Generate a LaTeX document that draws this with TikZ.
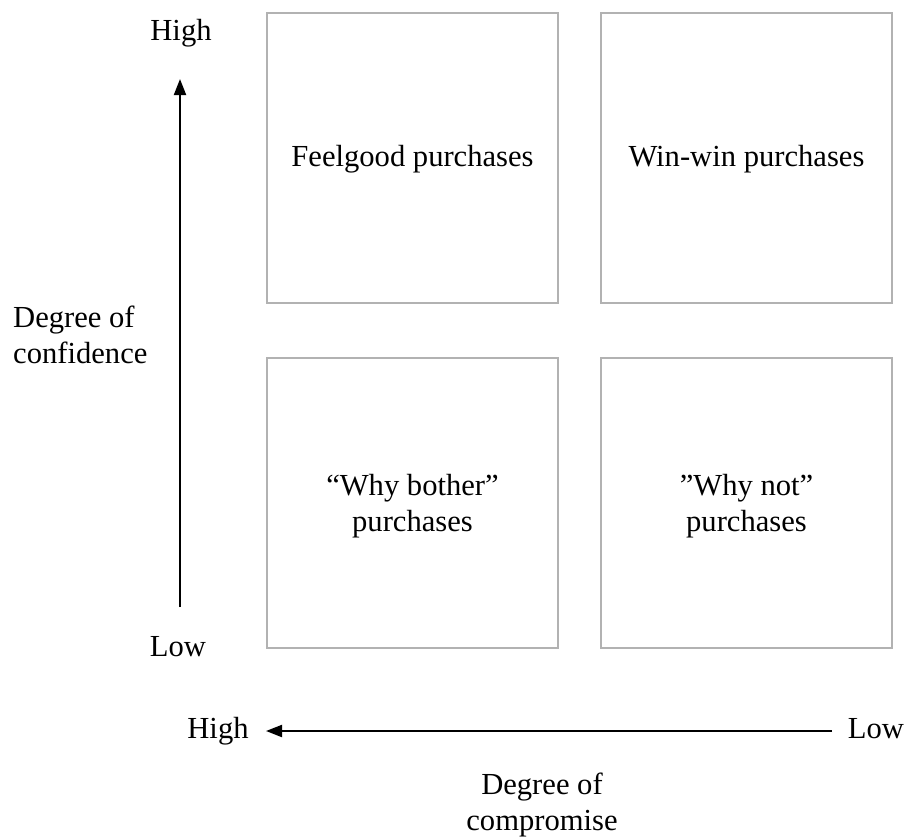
\documentclass[tikz,border=0pt]{standalone}
\usepackage{fontspec}
\setmainfont{Liberation Serif}
\usetikzlibrary{arrows.meta}
\begin{document}
\begin{tikzpicture}[x=1pt,y=-1pt,
  quad/.style={draw=black!30, line width=2pt, minimum width=291pt, minimum height=290pt, inner sep=0pt, anchor=north west},
  lbl/.style={font=\fontsize{30.6}{36}\selectfont, inner sep=0pt, align=center},
  axis/.style={line width=2pt, -{Triangle[length=16pt,width=12pt]}}]
  \useasboundingbox (0,0) rectangle (906,839);
  % quadrants
  \node[quad] (fg) at (266,12) {};
  \node[quad] (ww) at (600,12) {};
  \node[quad] (wb) at (266,357) {};
  \node[quad] (wn) at (600,357) {};
  \node[lbl] (fgt) at (fg.center) [yshift=-1pt] {Feelgood purchases};
  \node[lbl] (wwt) at (ww.center) [yshift=-1pt] {Win-win purchases};
  \node[lbl] (wbt) at (wb.center) [yshift=-3pt] {“Why bother”\\purchases};
  \node[lbl] (wnt) at (wn.center) [yshift=-3pt] {”Why not”\\purchases};
  % vertical axis
  \node[lbl] (vhigh) at (181,33) {High};
  \node[lbl] (vlow) at (178,647) {Low};
  \coordinate (vbot) at (180,607);
  \coordinate (vtop) at (180,79);
  \draw[axis] (vbot) -- (vtop);
  \node[lbl, align=left, anchor=west] (vname) at (13,335) {Degree of\\confidence};
  % horizontal axis
  \node[lbl] (hhigh) at (218,731) {High};
  \node[lbl] (hlow) at (876,729) {Low};
  \coordinate (hright) at (832,731);
  \coordinate (hleft) at (266,731);
  \draw[axis] (hright) -- (hleft);
  \node[lbl] (hname) at (542,805) {Degree of\\compromise};
\end{tikzpicture}
\end{document}
